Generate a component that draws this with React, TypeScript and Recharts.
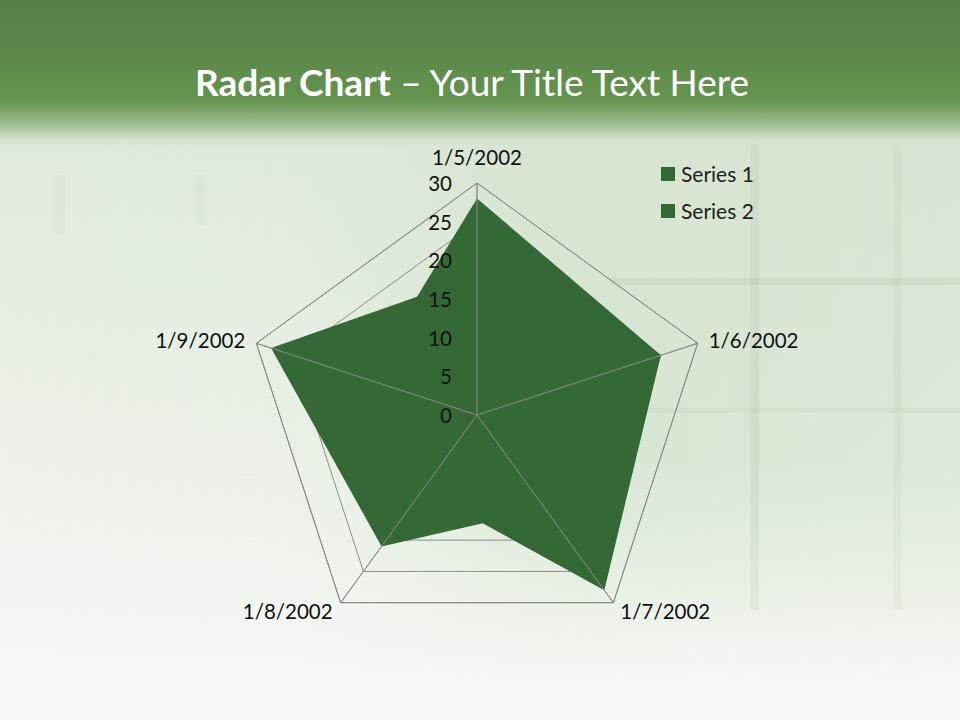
import React from 'react';
import {
  RadarChart,
  Radar,
  PolarGrid,
  PolarAngleAxis,
  PolarRadiusAxis,
  Legend,
} from 'recharts';

// category dates, clockwise from top
const dates = ['1/5/2002', '1/6/2002', '1/7/2002', '1/8/2002', '1/9/2002'];
const series1 = [28, 25, 28, 12, 15];
const series2 = [18, 12, 15, 21, 28];
const radiusTicks = [0, 5, 10, 15, 20, 25, 30];

const data = dates.map((d, i) => ({ date: d, s1: series1[i], s2: series2[i] }));

const FILL = '#346834';
const GRID = '#8c8c8c';
const FONT = 'Lato, "Open Sans", sans-serif';

// label offsets per category, measured from the vertex
const labelOffsets = [
  { dx: 0, dy: -26, anchor: 'middle' },
  { dx: 11, dy: -3, anchor: 'start' },
  { dx: 7, dy: 8, anchor: 'start' },
  { dx: -8, dy: 8, anchor: 'end' },
  { dx: -11, dy: -3, anchor: 'end' },
];

const AngleTick = (props: any) => {
  const { cx, cy, payload, index } = props;
  const rad = (payload.coordinate * Math.PI) / 180;
  const vx = cx + 232 * Math.cos(rad);
  const vy = cy - 232 * Math.sin(rad);
  const o = labelOffsets[index] || labelOffsets[0];
  return (
    <text
      x={vx + o.dx}
      y={vy + o.dy}
      textAnchor={o.anchor}
      dominantBaseline="central"
      fontSize={20.5}
      fontFamily={FONT}
      fill="#111"
    >
      {payload.value}
    </text>
  );
};

const RadiusTick = (props: any) => {
  const { x, y, payload } = props;
  return (
    <text
      x={x - 25}
      y={y}
      textAnchor="end"
      dominantBaseline="central"
      fontSize={20.5}
      fontFamily={FONT}
      fill="#111"
    >
      {payload.value}
    </text>
  );
};

const LegendContent = () => (
  <div style={{ fontFamily: FONT, fontSize: 21, color: '#222' }}>
    {['Series 1', 'Series 2'].map((name) => (
      <div key={name} style={{ display: 'flex', alignItems: 'center', height: 37 }}>
        <span
          style={{ display: 'inline-block', width: 14, height: 14, background: FILL, marginRight: 6 }}
        />
        {name}
      </div>
    ))}
  </div>
);

const pane = (left: number, top: number, width: number, height: number, alpha: number) => (
  <div
    style={{
      position: 'absolute',
      left,
      top,
      width,
      height,
      background: `rgba(110,135,105,${alpha})`,
    }}
  />
);

export default function App() {
  return (
    <div
      style={{
        position: 'absolute',
        left: 0,
        top: 0,
        width: 960,
        height: 720,
        overflow: 'hidden',
        background: 'linear-gradient(to bottom, #eef3eb 0px, #f1f5ef 400px, #f7faf6 720px)',
      }}
    >
      {/* greenish texture, stronger on the right, fading out towards the bottom */}
      <div
        style={{
          position: 'absolute',
          left: 0,
          top: 140,
          width: 960,
          height: 580,
          background:
            'linear-gradient(to right, rgba(205,222,198,0.15) 0px, rgba(205,222,198,0.2) 300px, rgba(205,222,198,0.7) 560px, rgba(205,222,198,0.55) 960px)',
          WebkitMaskImage: 'linear-gradient(to bottom, black 0%, black 55%, transparent 95%)',
          maskImage: 'linear-gradient(to bottom, black 0%, black 55%, transparent 95%)',
        }}
      />
      <div
        style={{
          position: 'absolute',
          left: 0,
          top: 140,
          width: 960,
          height: 300,
          background: 'linear-gradient(to bottom, rgba(215,228,210,0.5), rgba(215,228,210,0))',
        }}
      />
      {pane(750, 140, 9, 470, 0.09)}
      {pane(893, 140, 8, 470, 0.07)}
      {pane(610, 278, 350, 7, 0.09)}
      {pane(610, 408, 350, 5, 0.06)}
      {pane(55, 175, 10, 60, 0.04)}
      {pane(195, 175, 10, 50, 0.04)}
      {/* header band */}
      <div
        style={{
          position: 'absolute',
          left: 0,
          top: 0,
          width: 960,
          height: 150,
          background:
            'linear-gradient(to bottom, #577c48 0px, #5d8a4b 60px, #64944f 100px, #9dbb8f 124px, #d6e4d0 140px, rgba(230,238,226,0) 150px)',
        }}
      />
      <div
        style={{
          position: 'absolute',
          left: 0,
          top: 54,
          width: 960,
          textAlign: 'center',
          color: '#fff',
          fontFamily: FONT,
          fontSize: 37,
          lineHeight: '56px',
          paddingRight: 16,
          boxSizing: 'border-box',
        }}
      >
        <b>Radar Chart</b> – Your Title Text Here
      </div>
      <div style={{ position: 'absolute', left: 0, top: 0 }}>
        <RadarChart
          width={960}
          height={720}
          data={data}
          cx={477}
          cy={415}
          outerRadius={232}
          margin={{ top: 0, right: 0, bottom: 0, left: 0 }}
        >
          <PolarGrid gridType="polygon" stroke={GRID} strokeWidth={1} />
          <PolarAngleAxis
            dataKey="date"
            tick={<AngleTick />}
            tickLine={false}
            axisLine={{ stroke: GRID }}
          />
          <PolarRadiusAxis
            angle={90}
            domain={[0, 30]}
            ticks={radiusTicks}
            tick={<RadiusTick />}
            axisLine={false}
            tickLine={false}
          />
          <Radar name="Series 1" dataKey="s1" stroke="none" fill={FILL} fillOpacity={1} isAnimationActive={false} />
          <Radar name="Series 2" dataKey="s2" stroke="none" fill={FILL} fillOpacity={1} isAnimationActive={false} />
          <PolarGrid gridType="polygon" polarRadius={[]} stroke={GRID} strokeWidth={1} zIndex={150} />
          <Legend
            content={<LegendContent />}
            wrapperStyle={{ position: 'absolute', left: 661, top: 155, width: 120 }}
          />
        </RadarChart>
      </div>
    </div>
  );
}
